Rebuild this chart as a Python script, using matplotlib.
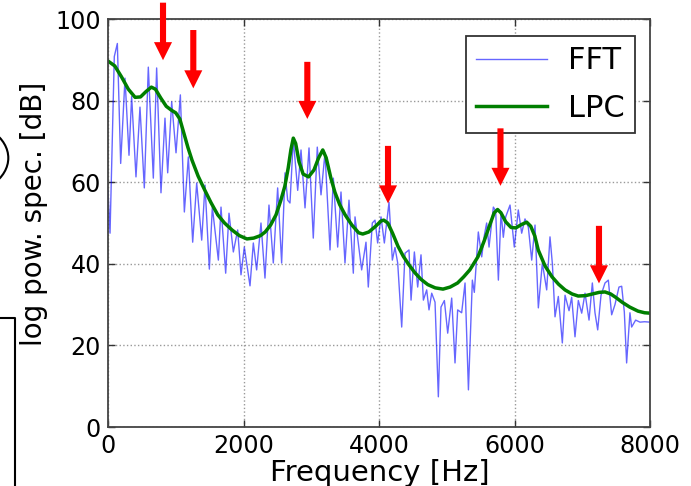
import matplotlib
matplotlib.use("Agg")
import matplotlib.pyplot as plt
from matplotlib.lines import Line2D
from matplotlib.patches import Circle
from matplotlib.legend_handler import HandlerLine2D

# ---------------- data ----------------
fft_freq = [0, 30, 93, 138, 187, 251, 310, 349, 413, 472, 536, 595, 669, 718, 782, 841,
            881, 940, 1004, 1068, 1127, 1186, 1250, 1309, 1383, 1432, 1496, 1540, 1629,
            1668, 1737, 1786, 1850, 1914, 1963, 2012, 2096, 2145, 2194, 2258, 2317, 2376,
            2440, 2504, 2563, 2613, 2652, 2686, 2735, 2800, 2849, 2908, 2967, 3030, 3089,
            3144, 3203, 3277, 3326, 3390, 3439, 3498, 3557, 3621, 3646, 3744, 3808, 3842,
            3901, 3941, 3980, 4030, 4079, 4148, 4197, 4236, 4276, 4335, 4384, 4443, 4473,
            4522, 4571, 4620, 4655, 4704, 4738, 4778, 4827, 4876, 4915, 4965, 5014, 5073,
            5122, 5161, 5220, 5270, 5320, 5378, 5407, 5466, 5516, 5555, 5589, 5624, 5688,
            5722, 5762, 5801, 5835, 5870, 5934, 5997, 6056, 6106, 6155, 6204, 6254, 6303,
            6352, 6411, 6475, 6524, 6559, 6598, 6647, 6706, 6746, 6805, 6844, 6893, 6942,
            6992, 7041, 7100, 7149, 7188, 7228, 7277, 7336, 7385, 7434, 7483, 7542, 7582,
            7621, 7655, 7704, 7729, 7788, 7852, 7920, 8000]
fft_db = [58, 47.5, 90.8, 94, 64.6, 85.5, 66.6, 81, 61.3, 78.4, 58.6, 88.2, 61, 88, 57.4, 75.7,
          62.3, 79.7, 67.2, 81.4, 52.7, 66.2, 45.3, 59.8, 45.8, 59.3, 38.7, 53.9, 40.9,
          53.9, 37.7, 52.4, 42.9, 48.3, 37.3, 44.1, 34.6, 45.1, 38.5, 50, 36.5, 54.4,
          40.2, 58.6, 40.2, 62.3, 55.6, 54.9, 70.5, 58, 67.9, 53.7, 68.4, 46.3, 68.6,
          56.9, 67.2, 43.4, 61, 44.1, 57.6, 40.2, 55.6, 37.7, 51.5, 38.5, 45.3, 34.3,
          50, 50.7, 45.1, 51.5, 45.1, 55.1, 40.9, 44, 40.2, 24.5, 42.6, 43.4, 31.1,
          42.9, 34.3, 42.2, 31.1, 33.6, 28.7, 32.8, 30.6, 7.4, 29.4, 31, 23, 31.6,
          15.7, 28.7, 28, 35.3, 9.1, 36, 33, 47.8, 41.7, 47, 50, 44.1, 53.9,
          53, 36, 52.7, 46.5, 51.5, 54.4, 44.1, 53.2, 47.5, 51, 49, 40.9, 49.5,
          29.2, 40.2, 33.6, 46.6, 40, 27, 32, 20.6, 32.3, 28.5, 31.8, 22.1, 31,
          27.9, 32.8, 26.2, 35.3, 28, 23.8, 32.3, 35.3, 36, 27.5, 30, 34.3, 34.5,
          28.2, 15.7, 28, 24.5, 26.2, 25.7, 25.8, 25.7]

lpc_freq = [0, 100, 200, 300, 400, 480, 560, 640, 700, 780, 860, 940, 1000, 1060, 1120,
            1180, 1240, 1330, 1430, 1520, 1620, 1720, 1830, 1940, 2050, 2150, 2250, 2320,
            2400, 2480, 2550, 2610, 2660, 2700, 2735, 2770, 2820, 2880, 2960, 3040, 3110,
            3170, 3220, 3290, 3350, 3420, 3500, 3600, 3700, 3760, 3850, 3950, 4030, 4070,
            4130, 4200, 4280, 4360, 4440, 4530, 4620, 4720, 4830, 4945, 5050, 5160, 5250,
            5340, 5460, 5550, 5630, 5700, 5750, 5800, 5870, 5950, 6020, 6100, 6180, 6240,
            6300, 6350, 6450, 6554, 6650, 6746, 6850, 6940, 7050, 7150, 7250, 7336, 7420,
            7500, 7587, 7700, 7823, 7920, 8000]
lpc_db = [89.7, 88.5, 85.8, 82.8, 80.8, 80.9, 82.2, 83.3, 82.8, 80.6, 78.6, 77.6, 77, 75.5, 72,
          68.5, 65.4, 61.5, 58, 55, 52, 50, 48.3, 46.9, 46.1, 46.3, 46.9, 47.8,
          49.5, 52, 55.5, 59, 63.5, 68, 70.8, 69.5, 65, 62, 61.3, 63, 66,
          67.9, 66, 61, 57.5, 54.5, 52, 49.5, 47.6, 47.3, 47.8, 49.2, 50.5, 50.7,
          50, 47.5, 44.3, 41.8, 39.8, 37.8, 36.2, 34.9, 34.1, 33.8, 34.3, 35.3, 36.8,
          38.5, 41.7, 45.5, 49.3, 52.5, 53.3, 52.5, 50.3, 48.9, 48.8, 49.6, 50.2, 49.2,
          46.8, 43.4, 39.5, 36.8, 35, 33.6, 32.6, 32.1, 32.2, 32.6, 33, 33.1, 32.6,
          31.7, 30.6, 29.4, 28.4, 28, 27.9]

arrow_freq = [812, 1259, 2942, 4133, 5793, 7247]
arrow_tip_db = [89.9, 83.0, 75.5, 54.8, 59.1, 35.2]
arrow_tail_db = [104.0, 97.3, 89.5, 68.9, 73.2, 49.3]

x_ticks = [0, 2000, 4000, 6000, 8000]
y_ticks = [0, 20, 40, 60, 80, 100]

# ---------------- figure ----------------
W, H = 691, 486
fig = plt.figure(figsize=(W / 100, H / 100), dpi=100)
ax = fig.add_axes([108 / W, 59 / H, 542 / W, 408 / H])

ax.plot(fft_freq, fft_db, color="#0000ff", alpha=0.6, lw=1.0, label="FFT")
ax.plot(lpc_freq, lpc_db, color="#007f00", lw=2.5, label="LPC")

ax.set_xlim(0, 8000)
ax.set_ylim(0, 100)
ax.set_xticks(x_ticks)
ax.set_yticks(y_ticks)
ax.grid(True, color="#999999", linestyle=":", lw=1.0)
ax.tick_params(direction="in", top=True, right=True, length=5, width=1,
               labelsize=17.2, pad=5, colors="#333333", labelcolor="black")
for s in ax.spines.values():
    s.set_color("#444444")
    s.set_linewidth(1.3)

ax.set_xlabel("Frequency [Hz]", fontsize=21)
ax.set_ylabel("log pow. spec. [dB]", fontsize=20)
ax.xaxis.set_label_coords(0.502, -0.078)
ax.yaxis.set_label_coords(-0.111, 0.523)

fs_leg = 22
hmap = {Line2D: HandlerLine2D(marker_pad=0.41)}
leg = ax.legend(loc="upper right", bbox_to_anchor=((635 - 108) / 542, (427 - 36) / 408),
                borderaxespad=0, fontsize=fs_leg, fancybox=False, frameon=True,
                framealpha=1, handlelength=2.33, handletextpad=0.67,
                borderpad=0.34, labelspacing=0.61, handler_map=hmap)
leg.get_frame().set_edgecolor("#333333")
leg.get_frame().set_linewidth(1.3)

for f, tip, tail in zip(arrow_freq, arrow_tip_db, arrow_tail_db):
    ax.annotate("", xy=(f, tip), xytext=(f, tail), annotation_clip=False, zorder=8,
                arrowprops=dict(arrowstyle="simple,head_length=1.3,head_width=1.3,tail_width=0.44",
                                mutation_scale=10, color="red", shrinkA=0, shrinkB=0, lw=0))

# decorations outside the axes (cropped neighbours in the source picture)
fig.add_artist(Circle((-44.7 / W, (H - 158) / H), 53 / W, transform=fig.transFigure,
                      fill=False, ec="black", lw=1.5))
fig.add_artist(Line2D([0, 15 / W, 15 / W], [(H - 318) / H, (H - 318) / H, 0],
                      transform=fig.transFigure, color="black", lw=1.5))

fig.savefig("out.png", dpi=100, facecolor="white")
